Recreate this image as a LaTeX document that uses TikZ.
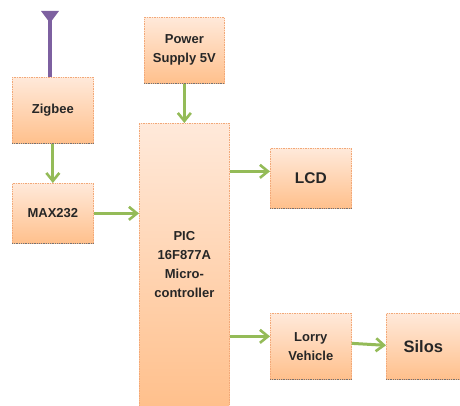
\documentclass[tikz,border=0pt]{standalone}
\usepackage{fontspec}
\setmainfont{Liberation Sans}
\usetikzlibrary{arrows.meta,calc}
\definecolor{edgeor}{HTML}{F2A878}
\definecolor{topor}{HTML}{FFE9DA}
\definecolor{botor}{HTML}{FFC08C}
\definecolor{arrowgr}{HTML}{94BB58}
\definecolor{antpur}{HTML}{7D60A0}
\tikzset{
  x=1pt,y=-1pt,
  blockbox/.style={rectangle,draw=edgeor,densely dotted,line width=0.7pt,top color=topor,bottom color=botor,
    inner sep=0pt,anchor=north west,align=center,text=black!85,font=\fontsize{13}{19}\selectfont\bfseries},
  link/.style={draw=arrowgr,line width=3pt,-{Straight Barb[length=8pt,width=13pt,line width=2.6pt]}},
  shadowline/.style={draw=black!55,densely dotted,line width=0.8pt},
  antenna/.style={draw=antpur,line width=3.6pt},
  antennatip/.style={fill=antpur,draw=none}
}
\begin{document}
\begin{tikzpicture}
\useasboundingbox (0,0) rectangle (460,406);
\fill[white] (0,0) rectangle (460,406);
\node[blockbox,minimum width=81pt,minimum height=66pt] (zig) at (12,77) {Zigbee};
\node[blockbox,minimum width=81pt,minimum height=60pt] (max) at (12,183) {MAX232};
\node[blockbox,minimum width=80pt,minimum height=66pt] (pow) at (144,17) {Power\\Supply 5V};
\node[blockbox,minimum width=90pt,minimum height=283pt] (pic) at (139,123) {PIC\\16F877A\\Micro-\\controller};
\node[blockbox,minimum width=81pt,minimum height=60pt,font=\fontsize{15.5}{18}\selectfont\bfseries] (lcd) at (270,148) {LCD};
\node[blockbox,minimum width=81pt,minimum height=66pt] (lorry) at (270,313) {Lorry\\Vehicle};
\node[blockbox,minimum width=74pt,minimum height=66pt,font=\fontsize{16.5}{18}\selectfont\bfseries] (silos) at (386,313) {Silos};
\foreach \n in {zig,max,pow,lcd,lorry,silos}{\draw[shadowline] (\n.south west) -- (\n.south east);}
\coordinate (anttop) at (50,18);
\draw[antenna] (zig.north -| anttop) -- (anttop);
\path[antennatip] (41,11) -- (59,11) -- (50,23) -- cycle;
\draw[link] (zig.south) -- (max.north);
\draw[link] (pow.south) -- (pow.south |- pic.north);
\draw[link] (max.east) -- (max.east -| pic.west);
\draw[link] ($(pic.east |- lcd.west)+(0,-7)$) -- ($(lcd.west)+(0,-7)$);
\draw[link] ($(pic.east |- lorry.west)+(0,-10)$) -- ($(lorry.west)+(0,-10)$);
\draw[link] ($(lorry.east)+(0,-3)$) -- ($(silos.west)+(0,-1)$);
\end{tikzpicture}
\end{document}
